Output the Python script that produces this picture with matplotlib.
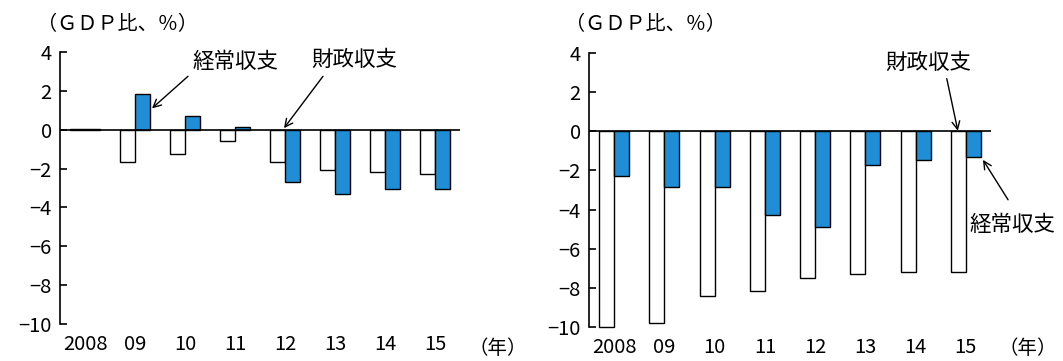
import matplotlib
matplotlib.use("Agg")
import matplotlib.pyplot as plt
import numpy as np

plt.rcParams['font.family'] = ['Noto Sans CJK JP', 'DejaVu Sans']

# 年次
years = ['2008', '09', '10', '11', '12', '13', '14', '15']

# 左パネル（GDP比、%）
left_fiscal = [0.05, -1.65, -1.25, -0.6, -1.65, -2.08, -2.2, -2.3]
left_current = [0.05, 1.84, 0.7, 0.14, -2.7, -3.3, -3.05, -3.05]

# 右パネル（GDP比、%）
right_fiscal = [-10.0, -9.8, -8.4, -8.15, -7.5, -7.28, -7.2, -7.2]
right_current = [-2.28, -2.85, -2.85, -4.3, -4.87, -1.72, -1.48, -1.3]

BLUE = '#1F8ED6'
W = 0.3

fig = plt.figure(figsize=(10.63, 3.61), dpi=100)
ax1 = fig.add_axes([60 / 1063, 1 - 324 / 361, 400 / 1063, 272 / 361])
ax2 = fig.add_axes([589 / 1063, 1 - 327 / 361, 402 / 1063, 274 / 361])


def draw(ax, fiscal, current):
    x = np.arange(len(years))
    ax.bar(x - W / 2, fiscal, W, color='white', edgecolor='black', linewidth=1,
           clip_on=False)
    ax.bar(x + W / 2, current, W, color=BLUE, edgecolor='black', linewidth=1)
    ax.axhline(0, color='black', linewidth=1.2)
    ax.set_xlim(-0.5, 7.5)
    ax.set_ylim(-10, 4)
    ax.set_yticks(np.arange(-10, 5, 2))
    ax.set_xticks(x, years)
    for s in ['top', 'right', 'bottom']:
        ax.spines[s].set_visible(False)
    ax.spines['left'].set_linewidth(1.2)
    ax.tick_params(axis='y', direction='in', length=5, width=1.2, labelsize=14.5, pad=6)
    ax.tick_params(axis='x', length=0, labelsize=14.5, pad=7)


draw(ax1, left_fiscal, left_current)
draw(ax2, right_fiscal, right_current)

arrow = dict(arrowstyle='->', color='black', lw=1, shrinkA=0, shrinkB=0,
             mutation_scale=14)

ax1.text(3.0, 3.5, '経常収支', fontsize=15.5, ha='center', va='center')
ax1.annotate('', xy=(1.34, 1.1), xytext=(2.06, 2.75), arrowprops=arrow)
ax1.text(5.38, 3.6, '財政収支', fontsize=15.5, ha='center', va='center')
ax1.annotate('', xy=(3.98, 0.08), xytext=(4.76, 2.75), arrowprops=arrow)

ax2.text(6.25, 3.5, '財政収支', fontsize=15.5, ha='center', va='center')
ax2.annotate('', xy=(6.84, 0.03), xytext=(6.62, 2.69), arrowprops=arrow)
ax2.text(7.08, -4.78, '経常収支', fontsize=15.5, ha='left', va='center',
         clip_on=False)
ax2.annotate('', xy=(7.34, -1.46), xytext=(7.84, -3.5), arrowprops=arrow,
             annotation_clip=False)

fig.text(37 / 1063, 1 - 25 / 361, '（ＧＤＰ比、％）', fontsize=14.5, va='center')
fig.text(565 / 1063, 1 - 25 / 361, '（ＧＤＰ比、％）', fontsize=14.5, va='center')
fig.text(468 / 1063, 1 - 349 / 361, '（年）', fontsize=14, va='center')
fig.text(998 / 1063, 1 - 349 / 361, '（年）', fontsize=14, va='center')

fig.savefig('out.png', dpi=100)
